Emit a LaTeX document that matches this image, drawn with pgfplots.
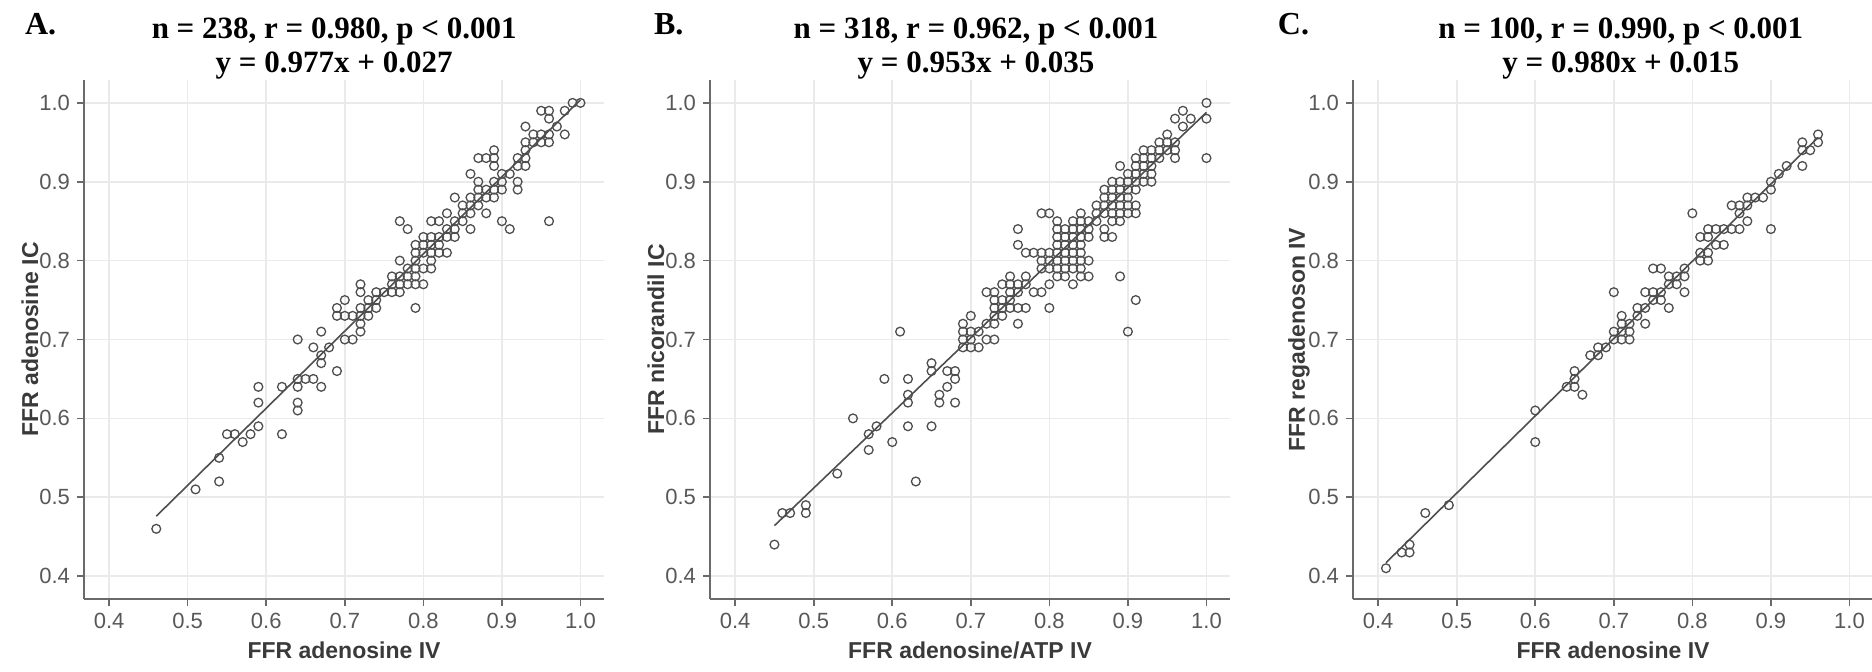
\documentclass[border=0pt]{standalone}
\usepackage{fontspec}
\setmainfont{Liberation Serif}
\setsansfont{Liberation Sans}
\usepackage{pgfplots}
\pgfplotsset{compat=1.18}

\definecolor{gridgray}{HTML}{EAEAEA}
\definecolor{axisgray}{HTML}{6A6A6A}
\definecolor{ticktext}{HTML}{585858}
\definecolor{labeltext}{HTML}{3A3A3A}
\definecolor{markgray}{HTML}{4E4E4E}

\newcommand{\titlefont}{\fontsize{15.5}{17}\selectfont\bfseries}
\newcommand{\letterfont}{\fontsize{16}{18}\selectfont\bfseries}

\pgfplotsset{
  ffrpanel/.style={
    scale only axis, width=260pt, height=259.5pt,
    xmin=0.368, xmax=1.03, ymin=0.371, ymax=1.029,
    xtick={0.4,0.5,0.6,0.7,0.8,0.9,1.0},
    ytick={0.4,0.5,0.6,0.7,0.8,0.9,1.0},
    axis lines=left, axis line style={-, draw=axisgray, line width=1.2pt},
    tick align=outside, major tick length=3.5pt,
    tick style={axisgray, line width=0.8pt},
    xmajorgrids, ymajorgrids, grid style={gridgray, line width=0.8pt},
    /pgf/number format/assume math mode=true,
    /pgf/number format/fixed, /pgf/number format/fixed zerofill,
    /pgf/number format/precision=1,
    ticklabel style={font=\sffamily\fontsize{11}{13}\selectfont, text=ticktext},
    xlabel style={font=\sffamily\bfseries\fontsize{11.5}{13}\selectfont, text=labeltext,
      at={(axis description cs:0.5,-0.0983)}, anchor=center},
    ylabel style={font=\sffamily\bfseries\fontsize{11.5}{13}\selectfont, text=labeltext,
      at={(axis description cs:-0.104,0.5)}, anchor=center},
    clip=false,
  },
  pts/.style={only marks, mark=o, mark size=2.2pt, draw=markgray, line width=0.65pt},
  fit/.style={no marks, draw=markgray, line width=0.8pt},
}

\begin{document}
\begin{tikzpicture}
\useasboundingbox (0,0) rectangle (936pt,335.5pt);

% ---------------- A ----------------
\begin{axis}[ffrpanel, at={(42pt,36pt)}, anchor=south west,
  xlabel={FFR adenosine IV}, ylabel={FFR adenosine IC}]
\addplot[pts] coordinates {
(0.46,0.46) (0.51,0.51) (0.54,0.55) (0.54,0.52) (0.55,0.58) (0.56,0.58) (0.57,0.57)
(0.58,0.58) (0.59,0.59) (0.59,0.62) (0.59,0.64) (0.62,0.58) (0.62,0.64) (0.64,0.70)
(0.64,0.65) (0.64,0.64) (0.64,0.62) (0.64,0.61) (0.65,0.65) (0.66,0.65) (0.66,0.69)
(0.67,0.71) (0.67,0.68) (0.67,0.67) (0.67,0.64) (0.68,0.69) (0.69,0.66) (0.69,0.74)
(0.69,0.73) (0.70,0.75) (0.70,0.73) (0.70,0.70) (0.71,0.73) (0.71,0.70) (0.72,0.77)
(0.72,0.76) (0.72,0.74) (0.72,0.73) (0.72,0.72) (0.72,0.71) (0.73,0.74) (0.73,0.73)
(0.73,0.75) (0.74,0.75) (0.74,0.74) (0.74,0.76) (0.75,0.76) (0.76,0.77) (0.76,0.76)
(0.76,0.78) (0.77,0.85) (0.77,0.80) (0.77,0.78) (0.77,0.77) (0.77,0.76) (0.78,0.84)
(0.78,0.79) (0.78,0.78) (0.78,0.77) (0.79,0.74) (0.79,0.82) (0.79,0.81) (0.79,0.80)
(0.79,0.79) (0.79,0.78) (0.79,0.77) (0.80,0.83) (0.80,0.82) (0.80,0.81) (0.80,0.79)
(0.80,0.77) (0.81,0.85) (0.81,0.83) (0.81,0.82) (0.81,0.81) (0.81,0.80) (0.81,0.79)
(0.82,0.85) (0.82,0.83) (0.82,0.82) (0.82,0.81) (0.83,0.86) (0.83,0.84) (0.83,0.83)
(0.83,0.81) (0.84,0.88) (0.84,0.85) (0.84,0.84) (0.84,0.83) (0.85,0.87) (0.85,0.86)
(0.85,0.85) (0.86,0.91) (0.86,0.88) (0.86,0.87) (0.86,0.86) (0.86,0.84) (0.87,0.93)
(0.87,0.90) (0.87,0.89) (0.87,0.88) (0.87,0.87) (0.88,0.93) (0.88,0.89) (0.88,0.88)
(0.88,0.86) (0.89,0.94) (0.89,0.93) (0.89,0.92) (0.89,0.90) (0.89,0.89) (0.89,0.88)
(0.90,0.91) (0.90,0.90) (0.90,0.89) (0.90,0.85) (0.91,0.91) (0.91,0.84) (0.92,0.93)
(0.92,0.92) (0.92,0.90) (0.92,0.89) (0.93,0.97) (0.93,0.95) (0.93,0.94) (0.93,0.93)
(0.93,0.92) (0.94,0.96) (0.94,0.95) (0.95,0.99) (0.95,0.96) (0.95,0.95) (0.96,0.99)
(0.96,0.98) (0.96,0.96) (0.96,0.95) (0.96,0.85) (0.97,0.97) (0.98,0.99) (0.98,0.96)
(0.99,1.00) (1.00,1.00)
};
\addplot[fit] coordinates {(0.46,0.476) (1.00,1.004)};
\node[anchor=base, font=\titlefont] at (rel axis cs:0.481,1.079) {n = 238, r = 0.980, p < 0.001};
\node[anchor=base, font=\titlefont] at (rel axis cs:0.481,1.0135) {y = 0.977x + 0.027};
\node[anchor=base west, font=\letterfont] at (rel axis cs:-0.127,1.0886) {A.};
\end{axis}

% ---------------- B ----------------
\begin{axis}[ffrpanel, at={(355pt,36pt)}, anchor=south west,
  xlabel={FFR adenosine/ATP IV}, ylabel={FFR nicorandil IC}]
\addplot[pts] coordinates {
(0.45,0.44) (0.46,0.48) (0.47,0.48) (0.49,0.49) (0.49,0.48) (0.53,0.53) (0.55,0.60)
(0.57,0.58) (0.57,0.56) (0.58,0.59) (0.59,0.65) (0.60,0.57) (0.61,0.71) (0.62,0.65)
(0.62,0.63) (0.62,0.62) (0.62,0.59) (0.63,0.52) (0.65,0.67) (0.65,0.66) (0.65,0.59)
(0.66,0.63) (0.66,0.62) (0.67,0.66) (0.67,0.64) (0.68,0.66) (0.68,0.65) (0.68,0.62)
(0.69,0.72) (0.69,0.71) (0.69,0.70) (0.69,0.69) (0.70,0.73) (0.70,0.71) (0.70,0.70)
(0.70,0.69) (0.71,0.71) (0.71,0.69) (0.72,0.76) (0.72,0.72) (0.72,0.70) (0.73,0.76)
(0.73,0.75) (0.73,0.74) (0.73,0.73) (0.73,0.72) (0.73,0.70) (0.74,0.77) (0.74,0.75)
(0.74,0.74) (0.74,0.73) (0.75,0.78) (0.75,0.77) (0.75,0.76) (0.75,0.75) (0.75,0.74)
(0.76,0.84) (0.76,0.82) (0.76,0.77) (0.76,0.76) (0.76,0.74) (0.76,0.72) (0.77,0.81)
(0.77,0.78) (0.77,0.77) (0.77,0.74) (0.78,0.81) (0.78,0.76) (0.79,0.86) (0.79,0.81)
(0.79,0.80) (0.79,0.79) (0.79,0.76) (0.80,0.86) (0.80,0.81) (0.80,0.80) (0.80,0.79)
(0.80,0.77) (0.80,0.74) (0.81,0.85) (0.81,0.84) (0.81,0.83) (0.81,0.82) (0.81,0.81)
(0.81,0.80) (0.81,0.79) (0.81,0.78) (0.82,0.84) (0.82,0.83) (0.82,0.82) (0.82,0.81)
(0.82,0.80) (0.82,0.79) (0.82,0.78) (0.83,0.85) (0.83,0.84) (0.83,0.83) (0.83,0.82)
(0.83,0.81) (0.83,0.80) (0.83,0.79) (0.83,0.77) (0.84,0.86) (0.84,0.85) (0.84,0.84)
(0.84,0.83) (0.84,0.82) (0.84,0.81) (0.84,0.80) (0.84,0.79) (0.84,0.78) (0.85,0.85)
(0.85,0.84) (0.85,0.83) (0.85,0.80) (0.85,0.78) (0.86,0.87) (0.86,0.86) (0.86,0.85)
(0.87,0.89) (0.87,0.88) (0.87,0.87) (0.87,0.86) (0.87,0.84) (0.87,0.83) (0.88,0.90)
(0.88,0.89) (0.88,0.88) (0.88,0.87) (0.88,0.86) (0.88,0.85) (0.88,0.83) (0.89,0.92)
(0.89,0.90) (0.89,0.89) (0.89,0.88) (0.89,0.87) (0.89,0.86) (0.89,0.85) (0.89,0.78)
(0.90,0.91) (0.90,0.90) (0.90,0.89) (0.90,0.88) (0.90,0.87) (0.90,0.86) (0.90,0.71)
(0.91,0.93) (0.91,0.92) (0.91,0.91) (0.91,0.90) (0.91,0.89) (0.91,0.87) (0.91,0.86)
(0.91,0.75) (0.92,0.94) (0.92,0.93) (0.92,0.92) (0.92,0.91) (0.92,0.90) (0.93,0.94)
(0.93,0.93) (0.93,0.92) (0.93,0.91) (0.93,0.90) (0.94,0.95) (0.94,0.94) (0.94,0.93)
(0.95,0.96) (0.95,0.95) (0.95,0.94) (0.96,0.98) (0.96,0.95) (0.96,0.94) (0.96,0.93)
(0.97,0.99) (0.97,0.97) (0.98,0.98) (1.00,1.00) (1.00,0.98) (1.00,0.93)
};
\addplot[fit] coordinates {(0.45,0.464) (1.00,0.988)};
\node[anchor=base, font=\titlefont] at (rel axis cs:0.5115,1.079) {n = 318, r = 0.962, p < 0.001};
\node[anchor=base, font=\titlefont] at (rel axis cs:0.5115,1.0135) {y = 0.953x + 0.035};
\node[anchor=base west, font=\letterfont] at (rel axis cs:-0.121,1.0886) {B.};
\end{axis}

% ---------------- C ----------------
\begin{axis}[ffrpanel, at={(676.5pt,36pt)}, anchor=south west,
  xlabel={FFR adenosine IV}, ylabel={FFR regadenoson IV}]
\addplot[pts] coordinates {
(0.41,0.41) (0.43,0.43) (0.44,0.44) (0.44,0.43) (0.46,0.48) (0.49,0.49) (0.60,0.61)
(0.60,0.57) (0.64,0.64) (0.65,0.64) (0.65,0.66) (0.65,0.65) (0.66,0.63) (0.67,0.68)
(0.68,0.68) (0.68,0.69) (0.69,0.69) (0.70,0.76) (0.70,0.71) (0.70,0.70) (0.71,0.73)
(0.71,0.72) (0.71,0.71) (0.71,0.70) (0.72,0.72) (0.72,0.71) (0.72,0.70) (0.73,0.74)
(0.73,0.73) (0.74,0.76) (0.74,0.74) (0.74,0.72) (0.75,0.79) (0.75,0.76) (0.75,0.75)
(0.76,0.79) (0.76,0.76) (0.76,0.75) (0.77,0.78) (0.77,0.77) (0.77,0.74) (0.78,0.78)
(0.78,0.77) (0.79,0.79) (0.79,0.78) (0.79,0.76) (0.80,0.86) (0.81,0.83) (0.81,0.81)
(0.81,0.80) (0.82,0.84) (0.82,0.83) (0.82,0.81) (0.82,0.80) (0.83,0.84) (0.83,0.82)
(0.84,0.84) (0.84,0.82) (0.85,0.87) (0.85,0.84) (0.86,0.87) (0.86,0.86) (0.86,0.84)
(0.87,0.88) (0.87,0.87) (0.87,0.85) (0.88,0.88) (0.89,0.88) (0.90,0.90) (0.90,0.89)
(0.90,0.84) (0.91,0.91) (0.92,0.92) (0.94,0.95) (0.94,0.94) (0.94,0.92) (0.95,0.94)
(0.96,0.96) (0.96,0.95)
};
\addplot[fit] coordinates {(0.41,0.417) (0.96,0.956)};
\node[anchor=base, font=\titlefont] at (rel axis cs:0.515,1.079) {n = 100, r = 0.990, p < 0.001};
\node[anchor=base, font=\titlefont] at (rel axis cs:0.515,1.0135) {y = 0.980x + 0.015};
\node[anchor=base west, font=\letterfont] at (rel axis cs:-0.158,1.0886) {C.};
\end{axis}
\end{tikzpicture}
\end{document}
